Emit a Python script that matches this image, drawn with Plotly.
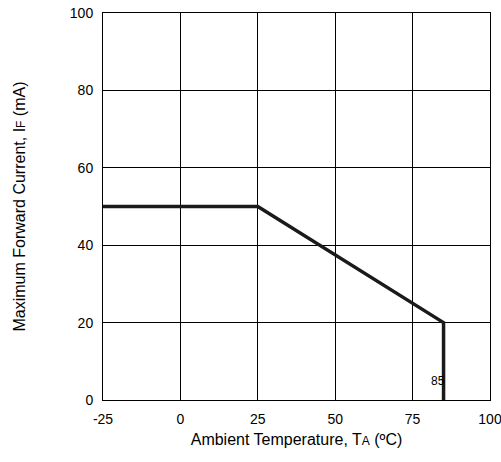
import plotly.graph_objects as go

temp = [-25, 25, 85, 85]
current = [50, 50, 20, 0]
x_ticks = [-25, 0, 25, 50, 75, 100]
y_ticks = [0, 20, 40, 60, 80, 100]

fig = go.Figure(go.Scatter(x=temp, y=current, mode='lines',
                           line=dict(color='#1a1a1a', width=3.5), showlegend=False))

fig.update_xaxes(range=[-25, 100], tickvals=x_ticks, ticktext=[str(v) for v in x_ticks],
                 showgrid=True, gridcolor='black', gridwidth=1, zeroline=False,
                 showline=True, linecolor='black', mirror=True, ticklabeloverflow='allow',
                 ticks='outside', ticklen=6, tickcolor='white', automargin=False,
                 title=dict(text="Ambient Temperature, T<span style='font-size:12px'>A</span> (ºC)",
                            font=dict(size=16), standoff=8))
fig.update_yaxes(range=[0, 100], tickvals=y_ticks,
                 showgrid=True, gridcolor='black', gridwidth=1, zeroline=False,
                 showline=True, linecolor='black', mirror=True, ticklabeloverflow='allow',
                 ticks='outside', ticklen=6, tickcolor='white', automargin=False,
                 title=dict(text="Maximum Forward Current, I<span style='font-size:12px'>F</span> (mA)",
                            font=dict(size=16), standoff=40))

fig.add_annotation(x=85, y=0, xshift=-6, yshift=10, text='85', showarrow=False,
                   yanchor='bottom', xanchor='center', font=dict(size=12, color='black'))

fig.update_layout(width=501, height=462, plot_bgcolor='white', paper_bgcolor='white',
                  font=dict(family='Liberation Sans, Arial', size=14, color='black'),
                  margin=dict(l=103, r=11, t=13, b=62))

fig.write_html("out.html", config={'displayModeBar': False},
               post_script="document.body.style.margin='0';")
